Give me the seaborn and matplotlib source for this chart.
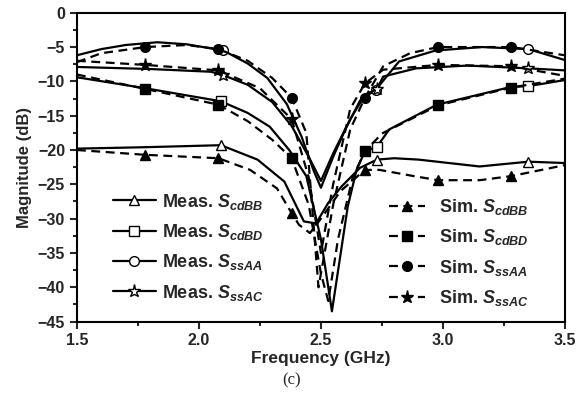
import matplotlib
matplotlib.use("Agg")
import matplotlib.pyplot as plt
from matplotlib.lines import Line2D
from matplotlib.ticker import MultipleLocator
import seaborn as sns
import pandas as pd

# measured curves (solid, open markers)
meas_ssAA_f = [1.5, 1.6, 1.7, 1.83, 1.95, 2.05, 2.10, 2.2, 2.28, 2.36, 2.42, 2.47, 2.50, 2.55, 2.60, 2.66, 2.725, 2.82, 2.97, 3.16, 3.35, 3.5]
meas_ssAA_db = [-6.2, -5.3, -4.7, -4.3, -4.6, -5.2, -5.5, -7.4, -9.5, -13.3, -18, -23, -25.5, -21, -17, -12.8, -11.2, -7.1, -5.5, -5.0, -5.3, -6.9]

meas_ssAC_f = [1.5, 1.8, 2.05, 2.10, 2.2, 2.3, 2.38, 2.45, 2.50, 2.55, 2.62, 2.68, 2.73, 2.755, 2.89, 3.1, 3.35, 3.5]
meas_ssAC_db = [-7.9, -8.2, -8.6, -9.1, -10.5, -13, -16.5, -21, -24.5, -20.5, -15.5, -12, -11.1, -9.3, -8.1, -7.7, -8.1, -8.4]

meas_cdBD_f = [1.5, 1.78, 2.09, 2.2, 2.29, 2.37, 2.44, 2.5, 2.545, 2.61, 2.646, 2.68, 2.73, 2.78, 2.975, 3.28, 3.35, 3.5]
meas_cdBD_db = [-9.4, -11.0, -12.9, -14.6, -16.6, -20, -23.8, -33, -43.5, -28.2, -22.9, -20.2, -19.5, -17, -13.4, -10.8, -10.7, -9.8]

meas_cdBB_f = [1.5, 1.77, 2.09, 2.24, 2.35, 2.43, 2.48, 2.53, 2.585, 2.66, 2.73, 2.8, 2.9, 3.0, 3.15, 3.35, 3.5]
meas_cdBB_db = [-19.8, -19.6, -19.3, -21.4, -24.6, -30.4, -30.7, -27.7, -25.3, -22.6, -21.4, -21.2, -21.4, -21.8, -22.4, -21.7, -21.9]

# simulated curves (dashed, filled markers)
sim_ssAA_f = [1.5, 1.6, 1.78, 1.95, 2.08, 2.2, 2.3, 2.38, 2.44, 2.49, 2.55, 2.62, 2.68, 2.755, 2.865, 2.98, 3.28, 3.5]
sim_ssAA_db = [-7.2, -5.9, -5.0, -4.7, -5.3, -7.0, -9.5, -12.4, -17.5, -40, -28, -17, -12.4, -7.8, -5.9, -5.0, -5.0, -6.2]

sim_ssAC_f = [1.5, 1.78, 2.08, 2.25, 2.38, 2.45, 2.50, 2.55, 2.62, 2.68, 2.755, 2.98, 3.28, 3.5]
sim_ssAC_db = [-7.0, -7.6, -8.4, -11, -15.5, -24, -35, -25, -14, -10.3, -8.3, -7.6, -7.8, -9.2]

sim_cdBD_f = [1.5, 1.78, 2.08, 2.2, 2.3, 2.38, 2.45, 2.5, 2.53, 2.57, 2.63, 2.68, 2.75, 2.98, 3.28, 3.5]
sim_cdBD_db = [-9.0, -11.1, -13.4, -15.8, -18.5, -21.2, -28, -38, -42, -33, -24, -20.2, -17.6, -13.5, -10.9, -9.6]

sim_cdBB_f = [1.5, 1.78, 2.08, 2.21, 2.32, 2.38, 2.41, 2.455, 2.5, 2.58, 2.68, 2.74, 2.88, 2.98, 3.15, 3.28, 3.5]
sim_cdBB_db = [-20.0, -20.7, -21.2, -22.9, -25.6, -29.2, -30.9, -32.1, -30, -26, -22.9, -22.9, -23.8, -24.4, -24.4, -23.8, -22.2]

meas_marks = [2.09, 2.10, 2.725, 2.73, 3.35]
sim_marks = [1.78, 2.08, 2.38, 2.68, 2.98, 3.28]

sns.set_style("ticks")
plt.rcParams['font.family'] = ['Liberation Sans', 'DejaVu Sans']
plt.rcParams['font.weight'] = 'bold'
plt.rcParams['mathtext.fontset'] = 'custom'
plt.rcParams['mathtext.it'] = 'Liberation Sans:italic:bold'
plt.rcParams['mathtext.rm'] = 'Liberation Sans:bold'

fig = plt.figure(figsize=(5.87, 3.98), dpi=100)
ax = fig.add_axes([0.131, 0.192, 0.8315, 0.776])

curves = [
    (meas_cdBB_f, meas_cdBB_db, "^", "Meas. $S_{cdBB}$", "meas"),
    (meas_cdBD_f, meas_cdBD_db, "s", "Meas. $S_{cdBD}$", "meas"),
    (meas_ssAA_f, meas_ssAA_db, "o", "Meas. $S_{ssAA}$", "meas"),
    (meas_ssAC_f, meas_ssAC_db, "*", "Meas. $S_{ssAC}$", "meas"),
    (sim_cdBB_f, sim_cdBB_db, "^", "Sim. $S_{cdBB}$", "sim"),
    (sim_cdBD_f, sim_cdBD_db, "s", "Sim. $S_{cdBD}$", "sim"),
    (sim_ssAA_f, sim_ssAA_db, "o", "Sim. $S_{ssAA}$", "sim"),
    (sim_ssAC_f, sim_ssAC_db, "*", "Sim. $S_{ssAC}$", "sim"),
]

meas_handles, sim_handles = [], []
for f, db, mk, label, kind in curves:
    df = pd.DataFrame({"f": f, "db": db})
    marks = meas_marks if kind == "meas" else sim_marks
    idx = [i for i, v in enumerate(f) if v in marks]
    ms = 9.5 if mk == "*" else 7
    if kind == "meas":
        style = dict(linestyle="-", markerfacecolor="white")
    else:
        style = dict(linestyle=(0, (4, 2.5)), markerfacecolor="black")
    sns.lineplot(data=df, x="f", y="db", ax=ax, color="black", lw=1.6,
                 marker=mk, markersize=ms, markeredgecolor="black",
                 markeredgewidth=1.0, markevery=idx, **style)
    handle = Line2D([], [], color="black", lw=1.6, marker=mk, markersize=ms,
                    markeredgecolor="black", markeredgewidth=1.0, label=label, **style)
    (meas_handles if kind == "meas" else sim_handles).append(handle)

leg1 = ax.legend(handles=meas_handles, loc="upper left", bbox_to_anchor=(0.055, 0.45),
                 frameon=False, fontsize=13, handlelength=2.4, handletextpad=0.3,
                 labelspacing=0.57, borderpad=0, numpoints=1)
ax.add_artist(leg1)
ax.legend(handles=sim_handles, loc="upper left", bbox_to_anchor=(0.62, 0.432),
          frameon=False, fontsize=13, handlelength=2.0, handletextpad=0.8,
          labelspacing=0.57, borderpad=0, numpoints=1)

ax.set_xlim(1.5, 3.5)
ax.set_ylim(-45, 0)
ax.xaxis.set_major_locator(MultipleLocator(0.5))
ax.xaxis.set_minor_locator(MultipleLocator(0.25))
ax.yaxis.set_major_locator(MultipleLocator(5))
ax.yaxis.set_minor_locator(MultipleLocator(2.5))
ax.xaxis.set_major_formatter(plt.FuncFormatter(lambda v, p: f"{v:.1f}"))
ax.tick_params(which="major", direction="out", length=5, width=1.5, labelsize=11.5)
ax.tick_params(which="minor", direction="out", length=3, width=1.5)
for s in ax.spines.values():
    s.set_linewidth(1.5)
    s.set_color("black")
ax.set_xlabel("Frequency (GHz)", fontsize=12.5, fontweight="bold", labelpad=2)
ax.set_ylabel("Magnitude (dB)", fontsize=12, fontweight="bold", labelpad=4)

fig.text(0.497, 0.045, "(c)", fontsize=12, family="Liberation Serif",
         fontweight="normal", ha="center", va="center")

fig.savefig("out.png", dpi=100)
